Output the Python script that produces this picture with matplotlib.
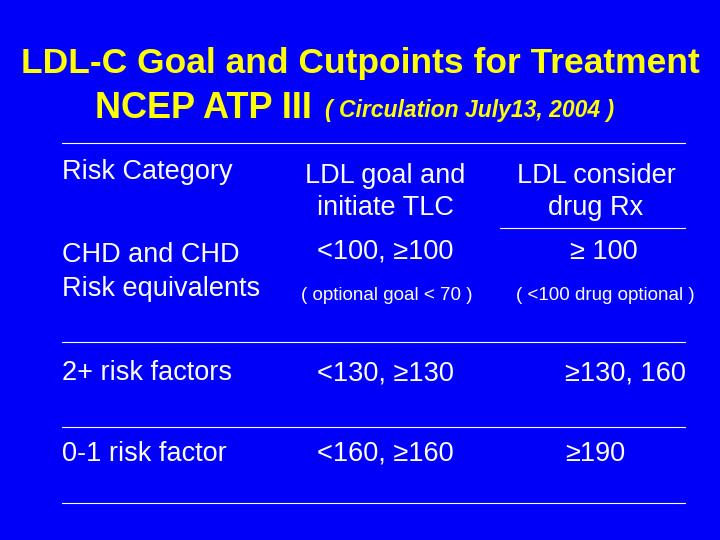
import matplotlib
matplotlib.use("Agg")
import matplotlib.pyplot as plt

title_line1 = "LDL-C Goal and Cutpoints for Treatment"
title_line2_main = "NCEP ATP III "
title_line2_sub = "( Circulation July13, 2004 )"
header = ["Risk Category", "LDL goal and\ninitiate TLC", "LDL consider\ndrug Rx"]
categories = ["CHD and CHD\nRisk equivalents", "2+ risk factors", "0-1 risk factor"]
goals = ["<100, \u2265100", "<130, \u2265130", "<160, \u2265160"]
drug = ["\u2265 100", "\u2265130, 160", "\u2265190"]
notes_goal = "( optional goal < 70 )"
notes_drug = "( <100 drug optional )"

fig = plt.figure(figsize=(7.2, 5.4), dpi=100)
fig.patch.set_facecolor("#0000FA")
ax = fig.add_axes([0, 0, 1, 1])
ax.set_xlim(0, 720); ax.set_ylim(540, 0); ax.axis("off")
ax.set_facecolor("#0000FA")
fn = "Liberation Sans"
W = "white"
ax.text(360, 64, title_line1, color="#FFFF00", fontsize=25.5, fontweight="bold", family=fn, ha="center", va="center")
ax.text(95, 108, title_line2_main, color="#FFFF00", fontsize=26, fontweight="bold", family=fn, ha="left", va="center")
ax.text(325, 111, title_line2_sub, color="#FFFF00", fontsize=16.5, fontweight="bold", style="italic", family=fn, ha="left", va="center")

for y in [143, 342, 427, 503]:
    ax.plot([62, 685], [y, y], color=W, lw=0.8)
ax.plot([500, 685], [228, 228], color=W, lw=0.8)

fs = 19.5
ax.text(62, 172, header[0], color=W, fontsize=fs, family=fn, va="center")
ax.text(385, 192, header[1], color=W, fontsize=fs, family=fn, va="center", ha="center", linespacing=1.3)
ax.text(596, 192, header[2], color=W, fontsize=fs, family=fn, va="center", ha="center", linespacing=1.3)

ax.text(62, 272, categories[0], color=W, fontsize=fs, family=fn, va="center", linespacing=1.35)
ax.text(385, 252, goals[0], color=W, fontsize=fs, family=fn, va="center", ha="center")
ax.text(604, 252, drug[0], color=W, fontsize=fs, family=fn, va="center", ha="center")
ax.text(387, 296, notes_goal, color=W, fontsize=13.5, family=fn, va="center", ha="center")
ax.text(605, 296, notes_drug, color=W, fontsize=13.5, family=fn, va="center", ha="center")

for i, y in [(1, 373), (2, 454)]:
    ax.text(62, y, categories[i], color=W, fontsize=fs, family=fn, va="center")
    ax.text(317, y, goals[i], color=W, fontsize=fs, family=fn, va="center")
    ax.text(565, y, drug[i], color=W, fontsize=fs, family=fn, va="center")

fig.savefig("out.png", dpi=100, facecolor=fig.get_facecolor())
